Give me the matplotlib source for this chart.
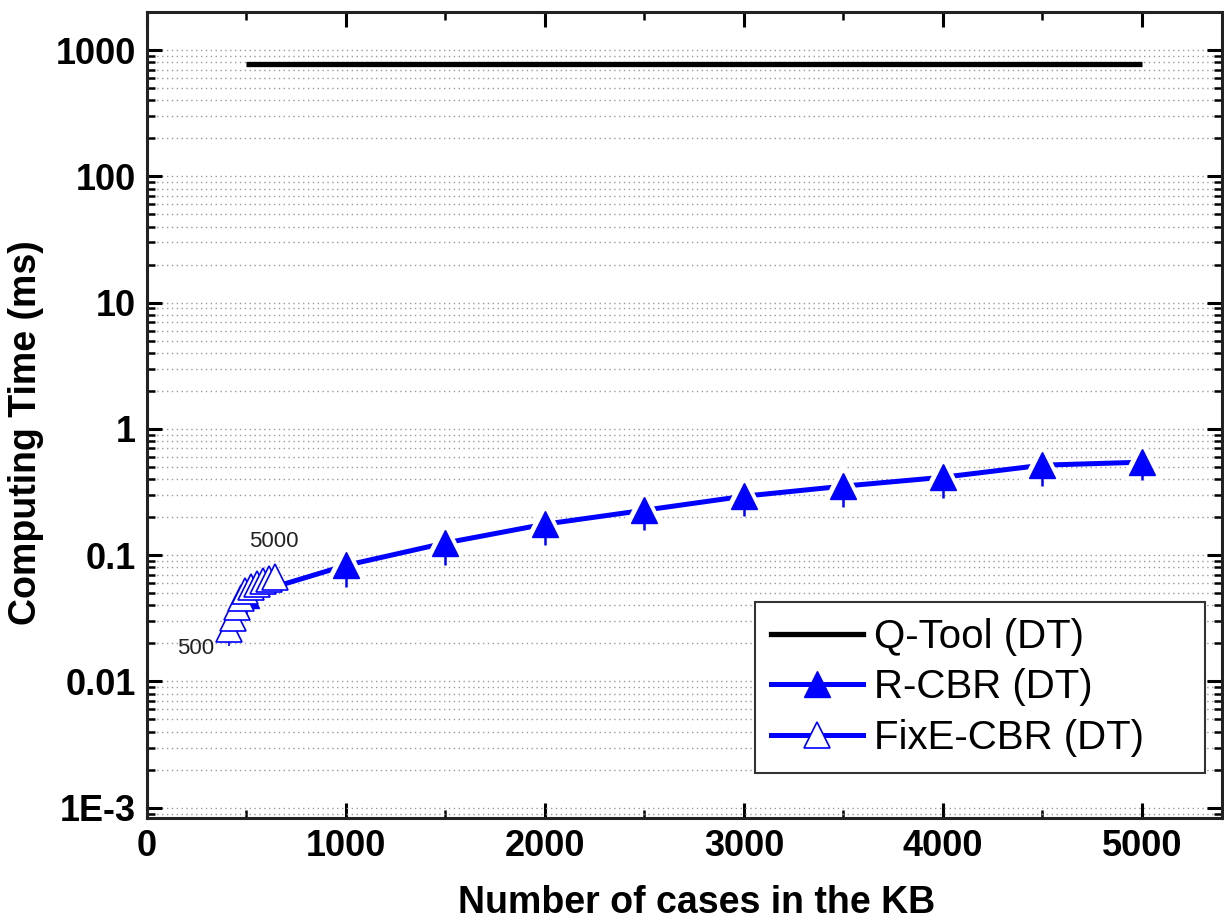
import matplotlib
matplotlib.use('Agg')
import matplotlib.pyplot as plt
from matplotlib.lines import Line2D
from matplotlib.ticker import FixedLocator, LogLocator, NullFormatter, MultipleLocator

plt.rcParams['font.family'] = ['Liberation Sans', 'DejaVu Sans']

# Q-Tool (DT)
qtool_x = [500, 1000, 1500, 2000, 2500, 3000, 3500, 4000, 4500, 5000]
qtool_y = [780, 780, 780, 780, 780, 780, 780, 780, 780, 780]

# R-CBR (DT)
rcbr_x = [500, 1000, 1500, 2000, 2500, 3000, 3500, 4000, 4500, 5000]
rcbr_y = [0.048, 0.083, 0.125, 0.176, 0.227, 0.293, 0.352, 0.414, 0.516, 0.545]
rcbr_err_lo = [0.014, 0.027, 0.042, 0.055, 0.07, 0.09, 0.11, 0.13, 0.16, 0.15]
rcbr_err_hi = [0.007, 0.014, 0.021, 0.028, 0.035, 0.045, 0.055, 0.065, 0.08, 0.075]

# FixE-CBR (DT), points for 500 ... 5000 cases
fixe_x = [412, 432, 452, 472, 492, 522, 552, 582, 612, 643]
fixe_y = [0.026, 0.032, 0.039, 0.046, 0.052, 0.056, 0.059, 0.062, 0.065, 0.067]
fixe_err = [0.007, 0.008, 0.01, 0.012, 0.013, 0.014, 0.015, 0.015, 0.016, 0.016]

ytick_vals = [1e-3, 1e-2, 1e-1, 1, 10, 100, 1000]
ytick_labels = ['1E-3', '0.01', '0.1', '1', '10', '100', '1000']

blue = '#0000FF'

fig, ax = plt.subplots(figsize=(12.24, 9.23), dpi=100)
fig.subplots_adjust(left=0.120, right=0.998, top=0.987, bottom=0.114)

ax.set_yscale('log')
ax.set_xlim(0, 5400)
ax.set_ylim(8.33e-4, 2000)

# horizontal dotted grid at every decade step
ax.yaxis.set_major_locator(FixedLocator(ytick_vals))
ax.yaxis.set_minor_locator(LogLocator(base=10, subs=range(2, 10), numticks=20))
ax.yaxis.set_minor_formatter(NullFormatter())
ax.set_yticklabels(ytick_labels)
ax.grid(True, which='both', axis='y', linestyle=(0, (1, 2.5)), color='#999999', linewidth=1.0)
ax.set_axisbelow(True)

ax.xaxis.set_major_locator(MultipleLocator(1000))
ax.xaxis.set_minor_locator(MultipleLocator(500))

# Q-Tool
ax.plot(qtool_x, qtool_y, color='black', lw=3.8, solid_capstyle='butt', zorder=3)

# R-CBR: line with gaps round the markers, error bars, filled triangles
ax.plot(rcbr_x, rcbr_y, color=blue, lw=3.6, zorder=3)
ax.plot(rcbr_x, rcbr_y, '^', ms=19, mfc='white', mec='white', mew=7, zorder=4)
ax.errorbar(rcbr_x, rcbr_y, yerr=[rcbr_err_lo, rcbr_err_hi], fmt='none', ecolor=blue,
            elinewidth=1.8, capsize=0, zorder=4.5)
ax.plot(rcbr_x, rcbr_y, '^', ms=19, mfc=blue, mec=blue, mew=1, zorder=5)

# FixE-CBR
ax.plot(fixe_x, fixe_y, color=blue, lw=3.0, zorder=6)
ax.errorbar(fixe_x, fixe_y, yerr=fixe_err, fmt='none', ecolor=blue, elinewidth=1.2, capsize=0, zorder=6)
ax.plot(fixe_x, fixe_y, '^', ms=19, mfc='white', mec=blue, mew=1.2, zorder=7)

ax.annotate('500', (fixe_x[0], fixe_y[0]), xytext=(-24, -14), textcoords='offset points',
            ha='center', va='center', fontsize=16, color='#222222')
ax.annotate('5000', (fixe_x[-1], fixe_y[-1]), xytext=(-1, 26), textcoords='offset points',
            ha='center', va='center', fontsize=16, color='#222222')

ax.set_xlabel('Number of cases in the KB', fontsize=27, fontweight='bold')
ax.set_ylabel('Computing Time (ms)', fontsize=27, fontweight='bold')
ax.xaxis.set_label_coords(0.512, -0.084)
ax.yaxis.set_label_coords(-0.096, 0.478)

ax.tick_params(axis='both', which='major', direction='in', length=11, width=2.2,
               top=True, right=True, labelsize=26, pad=8)
ax.tick_params(axis='both', which='minor', direction='in', length=6, width=1.8,
               top=True, right=True)
for lab in ax.get_xticklabels() + ax.get_yticklabels():
    lab.set_fontweight('bold')
for sp in ax.spines.values():
    sp.set_linewidth(2.2)
    sp.set_color('#222222')

handles = [
    Line2D([], [], color='black', lw=3.8),
    Line2D([], [], color=blue, lw=3.6, marker='^', ms=19, mfc=blue, mec=blue),
    Line2D([], [], color=blue, lw=3.6, marker='^', ms=19, mfc='white', mec=blue, mew=1.2),
]
labels = ['Q-Tool (DT)', 'R-CBR (DT)', 'FixE-CBR (DT)']
leg = ax.legend(handles, labels, loc='lower left', bbox_to_anchor=(0.5656, 0.0558, 0.4186, 0.3),
                mode='expand', borderaxespad=0, fontsize=29, fancybox=False, framealpha=1,
                edgecolor='#333333', handlelength=2.3, handletextpad=0.25,
                labelspacing=0.31, borderpad=0.4)
leg.get_frame().set_linewidth(1.5)

fig.savefig('out.png', dpi=100)
